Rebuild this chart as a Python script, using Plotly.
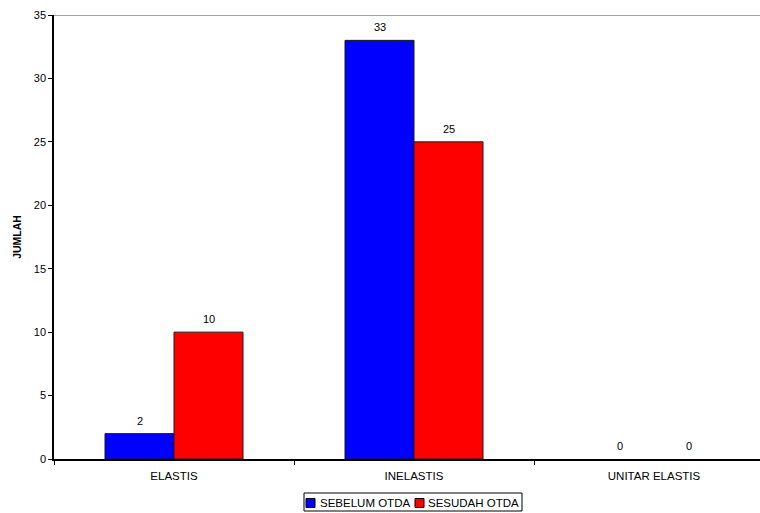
import plotly.graph_objects as go

categories = ["ELASTIS", "INELASTIS", "UNITAR ELASTIS"]
series_names = ["SEBELUM OTDA", "SESUDAH OTDA"]
sebelum = [2, 33, 0]
sesudah = [10, 25, 0]
y_ticks = [0, 5, 10, 15, 20, 25, 30, 35]

colors = ["#0000FF", "#FF0000"]
font_family = "Liberation Sans, Arial, sans-serif"
bargap = 0.425
bar_w = (1 - bargap) / len(series_names)

fig = go.Figure()
for k, (name, vals, col) in enumerate(zip(series_names, [sebelum, sesudah], colors)):
    fig.add_trace(go.Bar(
        x=categories, y=vals, name=name,
        marker=dict(color=col,
                    line=dict(color="#1a1a1a", width=[1 if v else 0 for v in vals])),
        showlegend=False,
    ))
    # value labels above each bar
    offset = (k - (len(series_names) - 1) / 2) * bar_w
    for i, v in enumerate(vals):
        fig.add_annotation(x=i + offset, y=v, xref="x", yref="y", text=str(v),
                           showarrow=False, yanchor="bottom", yshift=5,
                           font=dict(family=font_family, size=11, color="#000"))

# plot-area top border
fig.add_shape(type="line", xref="paper", yref="y", x0=0, x1=1, y0=35, y1=35,
              line=dict(color="#808080", width=1.5))

# legend box drawn with shapes and text
fig.add_shape(type="rect", xref="paper", yref="paper",
              x0=(304 - 54) / 720, x1=(522 - 54) / 720,
              y0=-(511 - 459) / 444, y1=-(493 - 459) / 444,
              line=dict(color="#000", width=1), fillcolor="#fff")
sq_x = [306, 415]
txt_x = [318, 426]
for name, col, sx, tx in zip(series_names, colors, sq_x, txt_x):
    fig.add_shape(type="rect", xref="paper", yref="paper",
                  x0=(sx - 54) / 720, x1=(sx + 9 - 54) / 720,
                  y0=-(507.5 - 459) / 444, y1=-(498.5 - 459) / 444,
                  line=dict(color="#000", width=1), fillcolor=col)
    fig.add_annotation(text=name, xref="paper", yref="paper",
                       x=(tx - 54) / 720, y=-(503 - 459) / 444,
                       xanchor="left", yanchor="middle", showarrow=False,
                       font=dict(family=font_family, size=11.5, color="#000"))

fig.update_layout(
    width=774, height=513, autosize=False,
    margin=dict(l=54, r=0, t=15, b=54),
    paper_bgcolor="#fff", plot_bgcolor="#fff",
    barmode="group", bargap=bargap, bargroupgap=0,
    font=dict(family=font_family, size=11, color="#000"),
    showlegend=False,
    xaxis=dict(
        showline=True, linecolor="#000", linewidth=1.5,
        ticks="outside", ticklen=4, tickcolor="#000", tickson="boundaries",
        tickfont=dict(size=11.5), showgrid=False, ticklabelstandoff=5,
    ),
    yaxis=dict(
        range=[0, 35], tickvals=y_ticks, showline=True, linecolor="#000",
        linewidth=1.5, ticks="outside", ticklen=4, tickcolor="#000",
        showgrid=False, zeroline=False, tickfont=dict(size=11),
        title=dict(text="<b>JUMLAH</b>", font=dict(size=10.5), standoff=10),
    ),
)

fig.write_html("out.html")
